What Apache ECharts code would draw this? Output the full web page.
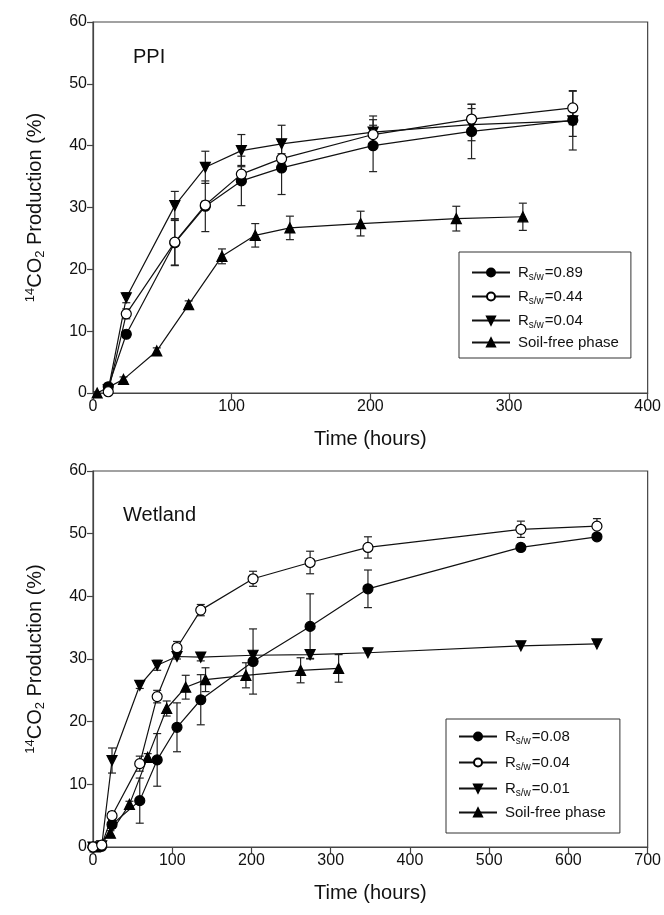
<!DOCTYPE html>
<html>
<head>
<meta charset="utf-8">
<script src="https://cdn.jsdelivr.net/npm/echarts@6/dist/echarts.min.js"></script>
<style>
    html, body { margin: 0; padding: 0; background: #fff; }
    #chart { width: 664px; height: 915px; }
</style>
</head>
<body>
<div id="chart"></div>
<script>
// 横轴刻度
const ppiTicks = [0, 100, 200, 300, 400];
const wetTicks = [0, 100, 200, 300, 400, 500, 600, 700];
const yTicks = [0, 10, 20, 30, 40, 50, 60];

// PPI
const ppiTime = [11, 24, 59, 81, 107, 136, 202, 273, 346];
const ppi089 = [1.0, 9.5, 24.3, 30.2, 34.3, 36.4, 40.0, 42.3, 44.1];
const ppi089Err = [0.4, 0.5, 3.6, 4.1, 4.0, 4.3, 4.2, 4.4, 4.8];
const ppi044 = [0.2, 12.8, 24.4, 30.4, 35.4, 37.9, 41.8, 44.3, 46.1];
const ppi044Err = [0.3, 0.8, 3.8, 0.6, 1.4, 0.8, 1.5, 2.4, 2.7];
const ppi004 = [0.5, 15.4, 30.3, 36.5, 39.2, 40.3, 42.2, 43.4, 44.0];
const ppi004Err = [0.3, 0.8, 2.3, 2.6, 2.6, 3.0, 2.6, 2.6, 2.5];

// 无土相 (两图相同)
const soilTime = [3, 22, 46, 69, 93, 117, 142, 193, 262, 310];
const soilFree = [0, 2.2, 6.8, 14.3, 22.1, 25.5, 26.7, 27.4, 28.2, 28.5];
const soilFreeErr = [0.2, 0.4, 0.5, 0.6, 1.2, 1.9, 1.9, 2.0, 2.0, 2.2];

// Wetland
const wetTime = [0, 11, 24, 59, 81, 106, 136, 202, 274, 347, 540, 636];
const wet008 = [0, 0.1, 3.6, 7.4, 13.9, 19.1, 23.5, 29.6, 35.2, 41.2, 47.8, 49.5];
const wet008Err = [0, 0, 0.6, 3.6, 4.2, 3.9, 4.0, 5.2, 5.2, 3.0, 0.5, 0.5];
const wet004 = [0, 0.3, 5.0, 13.3, 24.0, 31.8, 37.8, 42.8, 45.4, 47.8, 50.7, 51.2];
const wet004Err = [0, 0, 0.6, 1.2, 1.0, 1.0, 0.9, 1.2, 1.8, 1.7, 1.3, 1.2];
const wet001 = [0, 0.2, 13.8, 25.8, 29.0, 30.4, 30.3, 30.6, 30.7, 31.0, 32.1, 32.4];
const wet001Err = [0, 0, 2.0, 0.5, 0.8, 0.4, 0.6, 0.5, 0.6, 0, 0, 0];

const FONT = 'Liberation Sans, Arial, sans-serif';
const AXIS = '#444';

function pairs(xs, ys, es) {
    return xs.map((x, i) => [x, ys[i], es ? es[i] : 0]);
}

// 误差线
function errorBars(idx, xs, ys, es) {
    return {
        type: 'custom',
        xAxisIndex: idx,
        yAxisIndex: idx,
        z: 1,
        silent: true,
        data: pairs(xs, ys, es),
        renderItem(params, api) {
            const x = api.value(0);
            const y = api.value(1);
            const e = api.value(2);
            if (!e) return null;
            const hi = api.coord([x, y + e]);
            const lo = api.coord([x, y - e]);
            const w = 4;
            const style = { stroke: '#222', lineWidth: 1.2 };
            return {
                type: 'group',
                children: [
                    { type: 'line', shape: { x1: hi[0], y1: hi[1], x2: lo[0], y2: lo[1] }, style },
                    { type: 'line', shape: { x1: hi[0] - w, y1: hi[1], x2: hi[0] + w, y2: hi[1] }, style },
                    { type: 'line', shape: { x1: lo[0] - w, y1: lo[1], x2: lo[0] + w, y2: lo[1] }, style },
                ],
            };
        },
    };
}

const MARKS = {
    closed: { symbol: 'circle', fill: '#000', rotate: 0, size: 10 },
    open: { symbol: 'circle', fill: '#fff', rotate: 0, size: 10 },
    down: { symbol: 'triangle', fill: '#000', rotate: 180, size: 10 },
    up: { symbol: 'triangle', fill: '#000', rotate: 0, size: 10 },
};

function lineSeries(name, idx, xs, ys, mark) {
    const m = MARKS[mark];
    return {
        name,
        type: 'line',
        xAxisIndex: idx,
        yAxisIndex: idx,
        z: 3,
        data: pairs(xs, ys),
        symbol: m.symbol,
        symbolSize: m.size,
        symbolRotate: m.rotate,
        showAllSymbol: true,
        lineStyle: { color: '#111', width: 1.2 },
        itemStyle: { color: m.fill, borderColor: '#000', borderWidth: 1.2 },
        emphasis: { disabled: true },
        animation: false,
    };
}

const labelNames = {
    'p089': '{t|R}{sub|s/w}{t|=0.89}',
    'p044': '{t|R}{sub|s/w}{t|=0.44}',
    'p004': '{t|R}{sub|s/w}{t|=0.04}',
    'pSoil': '{t|Soil-free phase}',
    'w008': '{t|R}{sub|s/w}{t|=0.08}',
    'w004': '{t|R}{sub|s/w}{t|=0.04}',
    'w001': '{t|R}{sub|s/w}{t|=0.01}',
    'wSoil': '{t|Soil-free phase}',
};

const legendRich = {
    t: { fontSize: 15, fontFamily: FONT, color: '#111', lineHeight: 18 },
    sub: { fontSize: 10, fontFamily: FONT, color: '#111', lineHeight: 10, padding: [9, 1, 0, 0] },
};

function legendBox(names, left, top, gap, pad) {
    return {
        data: names,
        orient: 'vertical',
        left,
        top,
        itemWidth: 38,
        itemHeight: 10,
        itemGap: gap,
        padding: pad,
        borderColor: '#333',
        borderWidth: 1,
        selectedMode: false,
        formatter: n => labelNames[n],
        textStyle: { rich: legendRich, padding: [0, 0, 0, 3] },
    };
}

const yName = '{sup|14}{t|CO}{sub|2}{t| Production (%)}';
const nameRich = {
    t: { fontSize: 20, fontFamily: FONT, color: '#111' },
    sup: { fontSize: 13, fontFamily: FONT, color: '#111', lineHeight: 13, padding: [0, 0, 9, 0] },
    sub: { fontSize: 13, fontFamily: FONT, color: '#111', lineHeight: 13, padding: [10, 0, 0, 0] },
};

function xAxis(idx, max) {
    return {
        type: 'value',
        gridIndex: idx,
        min: 0,
        max,
        interval: 100,
        name: 'Time (hours)',
        nameLocation: 'middle',
        nameGap: 36,
        nameTextStyle: { fontSize: 20, fontFamily: FONT, color: '#111' },
        axisLine: { lineStyle: { color: AXIS, width: 1.2 } },
        axisTick: { length: 6, lineStyle: { color: AXIS, width: 1.2 } },
        axisLabel: { fontSize: 16, fontFamily: FONT, color: '#111', margin: 6 },
        splitLine: { show: false },
    };
}

function yAxis(idx) {
    return {
        type: 'value',
        gridIndex: idx,
        min: yTicks[0],
        max: yTicks[yTicks.length - 1],
        interval: 10,
        name: yName,
        nameLocation: 'middle',
        nameGap: 48,
        nameRotate: 90,
        nameTextStyle: { rich: nameRich },
        axisLine: { show: true, lineStyle: { color: AXIS, width: 1.2 } },
        axisTick: { show: true, length: 6, lineStyle: { color: AXIS, width: 1.2 } },
        axisLabel: { fontSize: 16, fontFamily: FONT, color: '#111', margin: 6 },
        splitLine: { show: false },
    };
}

const myChart = echarts.init(document.getElementById('chart'), null, { renderer: 'canvas' });

const option = {
    backgroundColor: '#fff',
    animation: false,
    title: [
        { text: 'PPI', left: 128, top: 42, textStyle: { fontSize: 20, fontWeight: 'normal', fontFamily: FONT, color: '#111' } },
        { text: 'Wetland', left: 118, top: 500, textStyle: { fontSize: 20, fontWeight: 'normal', fontFamily: FONT, color: '#111' } },
    ],
    grid: [
        { left: 93, top: 22, width: 555, height: 371, show: true, borderColor: AXIS, borderWidth: 1.2 },
        { left: 93, top: 471, width: 556, height: 376, show: true, borderColor: AXIS, borderWidth: 1.2 },
    ],
    legend: [
        legendBox(['p089', 'p044', 'p004', 'pSoil'], 459, 252, 5, [11, 12, 8, 12]),
        legendBox(['w008', 'w004', 'w001', 'wSoil'], 446, 719, 7, [8, 14, 13, 12]),
    ],
    xAxis: [xAxis(0, ppiTicks[ppiTicks.length - 1]), xAxis(1, wetTicks[wetTicks.length - 1])],
    yAxis: [yAxis(0), yAxis(1)],
    series: [
        errorBars(0, ppiTime, ppi089, ppi089Err),
        errorBars(0, ppiTime, ppi044, ppi044Err),
        errorBars(0, ppiTime, ppi004, ppi004Err),
        errorBars(0, soilTime, soilFree, soilFreeErr),
        lineSeries('pSoil', 0, soilTime, soilFree, 'up'),
        lineSeries('p004', 0, ppiTime, ppi004, 'down'),
        lineSeries('p089', 0, ppiTime, ppi089, 'closed'),
        lineSeries('p044', 0, ppiTime, ppi044, 'open'),

        errorBars(1, wetTime, wet008, wet008Err),
        errorBars(1, wetTime, wet004, wet004Err),
        errorBars(1, wetTime, wet001, wet001Err),
        errorBars(1, soilTime, soilFree, soilFreeErr),
        lineSeries('wSoil', 1, soilTime, soilFree, 'up'),
        lineSeries('w001', 1, wetTime, wet001, 'down'),
        lineSeries('w008', 1, wetTime, wet008, 'closed'),
        lineSeries('w004', 1, wetTime, wet004, 'open'),
    ],
};

myChart.setOption(option);
window.addEventListener('resize', () => {
    myChart.resize();
});
</script>
</body>
</html>
